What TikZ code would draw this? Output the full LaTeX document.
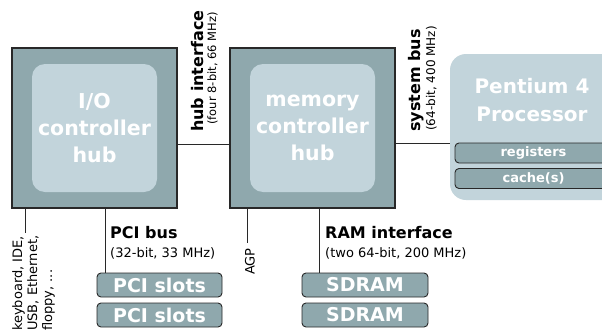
\documentclass[tikz,border=0pt]{standalone}
\usepackage{fontspec}
\setmainfont{DejaVu Sans}
\definecolor{hubdark}{RGB}{143,168,173}
\definecolor{hublight}{RGB}{194,212,219}
\definecolor{edge}{RGB}{40,40,40}
\begin{document}
\begin{tikzpicture}[x=1pt,y=-1pt,
  hub/.style={draw=edge, line width=1.1pt, fill=hubdark, minimum width=165pt, minimum height=160pt, inner sep=0pt},
  core/.style={fill=hublight, rounded corners=13pt, minimum width=125pt, minimum height=128pt, text=white, font=\fontsize{20.5}{27}\selectfont\bfseries, align=center, inner sep=0pt},
  cpubox/.style={fill=hublight, rounded corners=16pt, minimum width=170pt, minimum height=146pt, inner sep=0pt},
  cputext/.style={text=white, font=\fontsize{20}{28}\selectfont\bfseries, align=center, inner sep=0pt},
  slot/.style={draw=edge, line width=0.9pt, fill=hubdark, rounded corners=4pt, minimum width=125pt, minimum height=24pt, text=white, font=\fontsize{19}{20}\selectfont\bfseries, inner sep=0pt},
  reg/.style={draw=edge, line width=0.9pt, fill=hubdark, rounded corners=4pt, minimum width=157pt, minimum height=20pt, text=white, font=\fontsize{13}{15}\selectfont\bfseries, inner sep=0pt},
  wire/.style={draw=edge, line width=0.8pt},
  big/.style={font=\fontsize{16}{18}\selectfont\bfseries, inner sep=0pt},
  small/.style={font=\fontsize{13}{15}\selectfont, inner sep=0pt},
  tiny/.style={font=\fontsize{11.5}{13}\selectfont, inner sep=0pt},
  kb/.style={font=\fontsize{13}{15}\selectfont, inner sep=0pt}]

\useasboundingbox[fill=white] (0,0) rectangle (602,332);

% hubs
\node[hub] (ioh) at (94.5,128) {};
\node[core] (ioc) at (94.5,128) {I/O\\controller\\hub};
\node[hub] (mch) at (312.5,128) {};
\node[core] (mcc) at (312.5,128) {memory\\controller\\hub};

% processor
\node[cpubox] (cpu) at (535,127) {};
\node[cputext] (cput) at (532,100) {Pentium 4\\Processor};
\node[reg] (regs) at (533.5,153) {registers};
\node[reg] (cache) at (533.5,178.5) {cache(s)};

% slots
\node[slot] (pci1) at (159.5,285) {PCI slots};
\node[slot] (pci2) at (159.5,315) {PCI slots};
\node[slot, minimum width=126pt] (sd1) at (365,285) {SDRAM};
\node[slot, minimum width=126pt] (sd2) at (365,315) {SDRAM};

% connectors
\draw[wire] ([yshift=-16pt]ioh.east) -- ([yshift=-16pt]mch.west);
\draw[wire] ([yshift=-15pt]mch.east) -- ([yshift=-15pt]mch.east -| cpu.west);
\coordinate (kbd) at (25,233);
\draw[wire] (ioh.south -| kbd) -- (kbd);
\coordinate (pcix) at (105,0);
\draw[wire] (ioh.south -| pcix) -- (pci1.north -| pcix);
\coordinate (agpend) at (247,243);
\draw[wire] (mch.south -| agpend) -- (agpend);
\coordinate (ramx) at (319,0);
\draw[wire] (mch.south -| ramx) -- (sd1.north -| ramx);

% labels
\node[big, rotate=90, anchor=base west] (hubl) at (203,132) {hub interface};
\node[tiny, rotate=90, anchor=base east] (hubs) at (216,12) {(four 8-bit, 66 MHz)};
\node[big, rotate=90, anchor=base west] (sysl) at (420,132) {system bus};
\node[tiny, rotate=90, anchor=base west, font=\fontsize{12}{14}\selectfont] (syss) at (435,131) {(64-bit, 400 MHz)};
\node[big, anchor=base west] (pcil) at (110,238) {PCI bus};
\node[small, anchor=base west] (pcis) at (110,257) {(32-bit, 33 MHz)};
\node[big, anchor=base west] (raml) at (325,238) {RAM interface};
\node[small, anchor=base west] (rams) at (325,257) {(two 64-bit, 200 MHz)};
\node[small, rotate=90, anchor=east] (agp) at (250,248) {AGP};
\node[kb, rotate=90, anchor=base west] (kb1) at (22,331) {keyboard, IDE,};
\node[kb, rotate=90, anchor=base west] (kb2) at (37,331) {USB, Ethernet,};
\node[kb, rotate=90, anchor=base west] (kb3) at (52,331) {floppy, ...};
\end{tikzpicture}
\end{document}
